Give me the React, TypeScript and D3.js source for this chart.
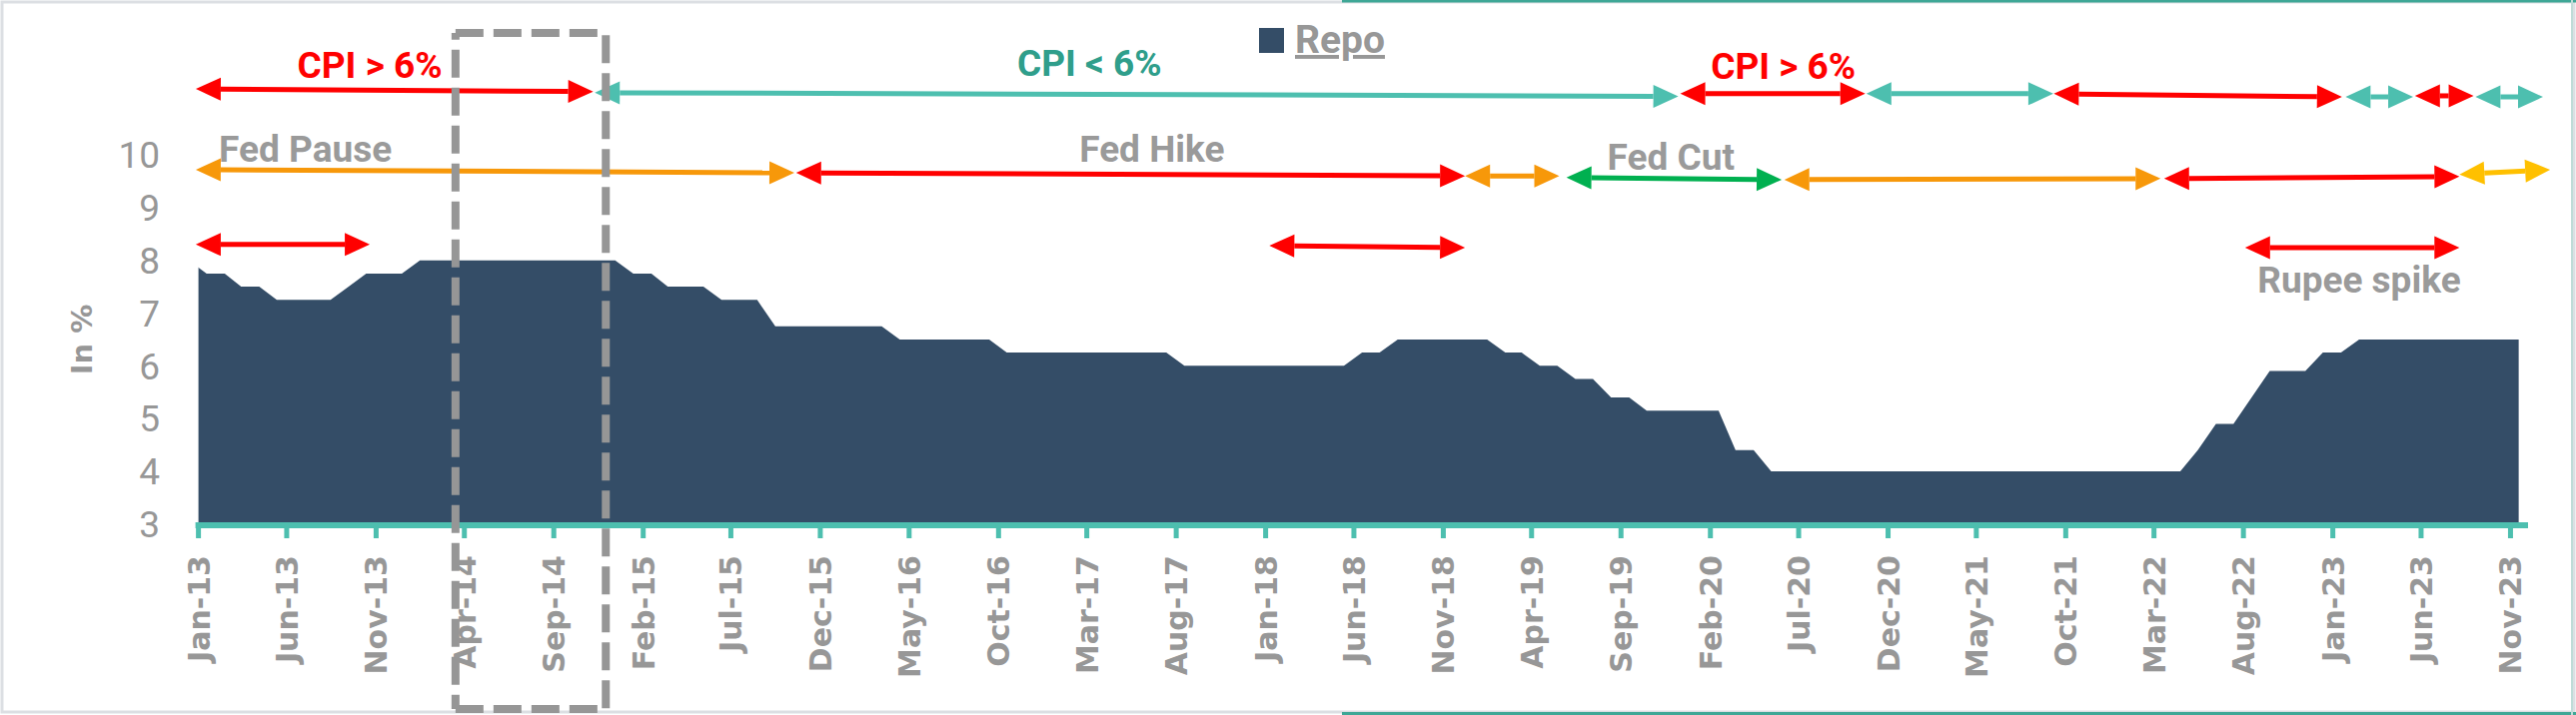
import React from 'react';
import * as d3 from 'd3';

const W = 2578;
const H = 716;

// Repo rate (%), month-end value, one per month starting Dec-2012 (plotted mid-month)
const repoFirstMonth = [2012, 11];
const repoValues: number[] = [
  8.0,
  // 2013
  7.75, 7.75, 7.5, 7.5, 7.25, 7.25, 7.25, 7.25, 7.5, 7.75, 7.75, 7.75,
  // 2014
  8.0, 8.0, 8.0, 8.0, 8.0, 8.0, 8.0, 8.0, 8.0, 8.0, 8.0, 8.0,
  // 2015
  7.75, 7.75, 7.5, 7.5, 7.5, 7.25, 7.25, 7.25, 6.75, 6.75, 6.75, 6.75,
  // 2016
  6.75, 6.75, 6.75, 6.5, 6.5, 6.5, 6.5, 6.5, 6.5, 6.25, 6.25, 6.25,
  // 2017
  6.25, 6.25, 6.25, 6.25, 6.25, 6.25, 6.25, 6.0, 6.0, 6.0, 6.0, 6.0,
  // 2018
  6.0, 6.0, 6.0, 6.0, 6.0, 6.25, 6.25, 6.5, 6.5, 6.5, 6.5, 6.5,
  // 2019
  6.5, 6.25, 6.25, 6.0, 6.0, 5.75, 5.75, 5.4, 5.4, 5.15, 5.15, 5.15,
  // 2020
  5.15, 5.15, 4.4, 4.4, 4.0, 4.0, 4.0, 4.0, 4.0, 4.0, 4.0, 4.0,
  // 2021
  4.0, 4.0, 4.0, 4.0, 4.0, 4.0, 4.0, 4.0, 4.0, 4.0, 4.0, 4.0,
  // 2022
  4.0, 4.0, 4.0, 4.0, 4.4, 4.9, 4.9, 5.4, 5.9, 5.9, 5.9, 6.25,
  // 2023 (Jan-Nov)
  6.25, 6.5, 6.5, 6.5, 6.5, 6.5, 6.5, 6.5, 6.5, 6.5, 6.5,
];

const yTicks = [3, 4, 5, 6, 7, 8, 9, 10];
const seriesName = 'Repo';
const yTitle = 'In %';

// Annotation spans: [fromMonth, fromLevel, toMonth, toLevel, kind]; months counted from Jan-13
const cpiSpans: [number, number, number, number, string][] = [
  [-0.15, 11.25, 22.19, 11.2, 'high'],
  [22.28, 11.18, 83.19, 11.11, 'low'],
  [83.3, 11.16, 93.7, 11.16, 'high'],
  [93.76, 11.16, 104.27, 11.16, 'low'],
  [104.3, 11.16, 120.5, 11.1, 'high'],
  [120.7, 11.1, 124.5, 11.1, 'low'],
  [124.6, 11.12, 127.9, 11.12, 'high'],
  [128.0, 11.1, 131.8, 11.1, 'low'],
];
const fedSpans: [number, number, number, number, string][] = [
  [-0.15, 9.72, 33.5, 9.66, 'pause'],
  [33.6, 9.66, 71.2, 9.6, 'hike'],
  [71.2, 9.6, 76.5, 9.6, 'pause'],
  [76.9, 9.57, 89.0, 9.53, 'cut'],
  [89.15, 9.53, 110.3, 9.55, 'pause'],
  [110.5, 9.55, 127.1, 9.59, 'hike'],
  [127.1, 9.63, 132.2, 9.72, 'pause2'],
];
const shockSpans: [number, number, number, number, string][] = [
  [-0.15, 8.3, 9.63, 8.3, 'shock'],
  [60.2, 8.28, 71.2, 8.24, 'shock'],
  [115.05, 8.24, 127.1, 8.24, 'shock'],
];

// Annotation labels: [text, month, level, anchor, kind]
const labels: [string, number, number, string, string][] = [
  ['CPI > 6%', 9.63, 11.46, 'middle', 'high'],
  ['CPI < 6%', 50.09, 11.5, 'middle', 'low'],
  ['CPI > 6%', 89.09, 11.44, 'middle', 'high'],
  ['Fed Pause', 1.15, 9.875, 'start', 'note'],
  ['Fed Hike', 53.6, 9.875, 'middle', 'note'],
  ['Fed Cut', 79.2, 9.718, 'start', 'note'],
  ['Rupee spike', 121.46, 7.39, 'middle', 'note'],
];

// Highlighted window (dashed box), months from Jan-13
const highlightFrom = 14.45;
const highlightTo = 22.9;

const COLORS: Record<string, string> = {
  high: '#FF0000',
  low: '#4DBFAF',
  pause: '#F7980A',
  hike: '#FF0000',
  cut: '#00B050',
  pause2: '#FFC000',
  shock: '#FF0000',
  note: '#999999',
};
const LABEL_COLORS: Record<string, string> = {
  high: '#FF0000',
  low: '#2F9E8B',
  note: '#9A9A9A',
};

const AREA = '#344D67';
const AXIS = '#4DBFAF';
const GRAY = '#979797';

const monthStart = new Date(2013, 0, 1);
const DAY = 864e5;

function Arrow({ x0, y0, x1, y1, color }: { x0: number; y0: number; x1: number; y1: number; color: string }) {
  const dx = x1 - x0;
  const dy = y1 - y0;
  const len = Math.hypot(dx, dy);
  const ux = dx / len;
  const uy = dy / len;
  const nx = -uy;
  const ny = ux;
  const hl = 25;
  const hw = 11.5;
  const b0x = x0 + ux * hl;
  const b0y = y0 + uy * hl;
  const b1x = x1 - ux * hl;
  const b1y = y1 - uy * hl;
  const tri = (tx: number, ty: number, bx: number, by: number) =>
    `${tx},${ty} ${bx + nx * hw},${by + ny * hw} ${bx - nx * hw},${by - ny * hw}`;
  return (
    <g>
      <line x1={b0x} y1={b0y} x2={b1x} y2={b1y} stroke={color} strokeWidth={5} />
      <polygon points={tri(x0, y0, b0x, b0y)} fill={color} />
      <polygon points={tri(x1, y1, b1x, b1y)} fill={color} />
    </g>
  );
}

export default function App() {
  const data = repoValues.map((v, i) => ({
    date: d3.timeMonth.offset(new Date(repoFirstMonth[0], repoFirstMonth[1], 15), i),
    value: v,
  }));

  const x = d3
    .scaleTime()
    .domain([new Date(2013, 0, 1), new Date(2023, 11, 1)])
    .range([198.6, 2530]);
  const y = d3.scaleLinear().domain([3, 10]).range([524.7, 155.1]);

  const xm = (m: number) => x(new Date(+monthStart + m * 30.4375 * DAY));

  const area = d3
    .area<{ date: Date; value: number }>()
    .x((d) => x(d.date))
    .y0(y(3))
    .y1((d) => y(d.value));

  const tickDates = d3.range(0, 131, 5).map((i) => d3.timeMonth.offset(monthStart, i));
  const fmt = d3.timeFormat('%b-%y');

  const [xmin, xmax] = x.range();
  const axisY = y(3) + 1.3;

  const spans = [...cpiSpans, ...fedSpans, ...shockSpans];

  const boxL = xm(highlightFrom);
  const boxR = xm(highlightTo);
  const boxT = 33;
  const boxB = 710;

  return (
    <svg
      width={W}
      height={H}
      style={{ position: 'absolute', left: 0, top: 0, background: '#fff' }}
      xmlns="http://www.w3.org/2000/svg"
    >
      <rect x={0} y={0} width={W} height={H} fill="#fff" />
      {/* outer frame */}
      <rect x={2} y={2} width={W - 4} height={H - 5} fill="none" stroke="#DCDFE3" strokeWidth={3} />
      <line x1={1343} y1={1} x2={W} y2={1} stroke="#3FA796" strokeWidth={3} />
      <line x1={1343} y1={H - 1.5} x2={W} y2={H - 1.5} stroke="#3FA796" strokeWidth={3} />
      <line x1={W - 4} y1={0} x2={W - 4} y2={H} stroke="#BFDCD8" strokeWidth={2} />

      <defs>
        <clipPath id="plotClip">
          <rect x={xmin} y={0} width={xmax - xmin} height={H} />
        </clipPath>
      </defs>

      {/* area */}
      <path d={area(data) || ''} fill={AREA} clipPath="url(#plotClip)" />

      {/* x axis */}
      <line x1={xmin - 3} y1={axisY} x2={xmax} y2={axisY} stroke={AXIS} strokeWidth={6} />
      {tickDates.map((d, i) => (
        <line key={i} x1={x(d)} y1={axisY} x2={x(d)} y2={539} stroke={AXIS} strokeWidth={5} />
      ))}
      {tickDates.map((d, i) => (
        <text
          key={'t' + i}
          transform={`translate(${x(d) + 11},556) rotate(-90)`}
          textAnchor="end"
          fontFamily="DejaVu Sans"
          fontWeight="bold"
          fontSize={30}
          fill={GRAY}
        >
          {fmt(d)}
        </text>
      ))}

      {/* y labels */}
      {yTicks.map((t) => (
        <text
          key={t}
          x={160}
          y={y(t)}
          dy="0.36em"
          textAnchor="end"
          fontFamily="Roboto"
          fontSize={37}
          fill={GRAY}
        >
          {t}
        </text>
      ))}
      <text
        transform="translate(92,340) rotate(-90)"
        textAnchor="middle"
        fontFamily="DejaVu Sans"
        fontWeight="bold"
        fontSize={29}
        fill={GRAY}
      >
        {yTitle}
      </text>

      {/* legend */}
      <rect x={1260} y={28} width={25} height={25} fill={AREA} />
      <text
        x={1296}
        y={53}
        fontFamily="Roboto"
        fontWeight="bold"
        fontSize={39}
        fill={GRAY}
        textDecoration="underline"
      >
        {seriesName}
      </text>

      {/* arrows */}
      {spans.map((s, i) => (
        <Arrow key={i} x0={xm(s[0])} y0={y(s[1])} x1={xm(s[2])} y1={y(s[3])} color={COLORS[s[4]]} />
      ))}

      {/* labels */}
      {labels.map((l, i) => (
        <text
          key={i}
          x={xm(l[1])}
          y={y(l[2])}
          textAnchor={l[3] as any}
          fontFamily="Roboto"
          fontWeight="bold"
          fontSize={37}
          fill={LABEL_COLORS[l[4]]}
        >
          {l[0]}
        </text>
      ))}

      {/* dashed highlight box */}
      <g stroke="#969696" strokeWidth={8} fill="none" strokeDasharray="28 10">
        <line x1={boxL} y1={boxT} x2={boxR} y2={boxT} />
        <line x1={boxL} y1={boxT} x2={boxL} y2={boxB} strokeDashoffset={21.3} />
        <line x1={boxR} y1={boxT} x2={boxR} y2={boxB} strokeDashoffset={35.7} />
        <line x1={boxL} y1={boxB} x2={boxR} y2={boxB} />
      </g>
    </svg>
  );
}
